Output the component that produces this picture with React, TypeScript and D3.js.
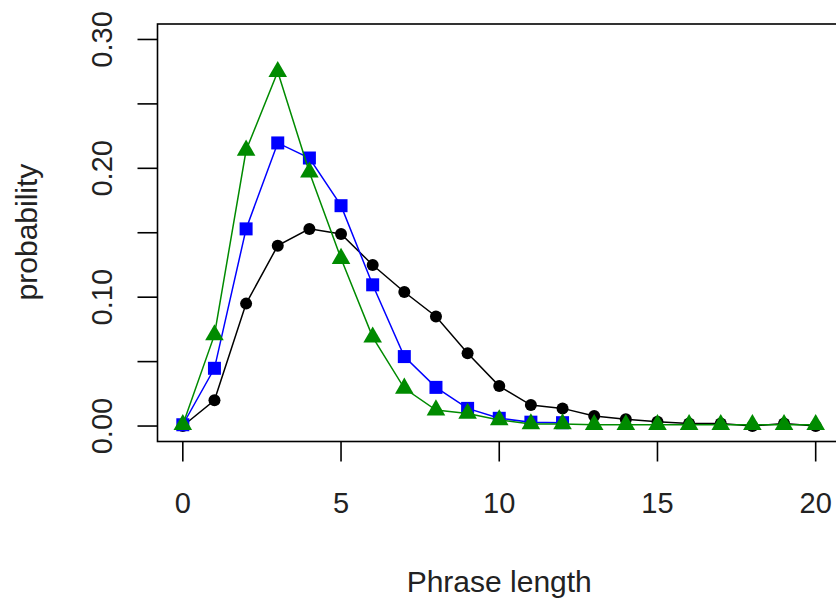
import React from "react";
import * as d3 from "d3";

const lengths = d3.range(0, 21);
const blackSeries = [0.0, 0.020, 0.095, 0.140, 0.153, 0.149, 0.125, 0.104, 0.085, 0.0565, 0.031, 0.0163, 0.0137, 0.0078, 0.0052, 0.0034, 0.002, 0.002, 0.0, 0.002, 0.0];
const blueSeries = [0.001, 0.0448, 0.153, 0.2197, 0.208, 0.171, 0.1096, 0.0539, 0.030, 0.0137, 0.006, 0.003, 0.0026];
const greenSeries = [0.001, 0.0707, 0.214, 0.275, 0.197, 0.130, 0.069, 0.0293, 0.0124, 0.0098, 0.0047, 0.0016, 0.0016, 0.001, 0.001, 0.001, 0.001, 0.001, 0.001, 0.001, 0.001];
const xTicks = [0, 5, 10, 15, 20];
const yTicks = [0, 0.05, 0.1, 0.15, 0.2, 0.25, 0.3];
const yTickLabels = ["0.00", "0.10", "0.20", "0.30"];
const xTitle = "Phrase length";
const yTitle = "probability";

const W = 836;
const H = 602;
const left = 157.5, right = 841, top = 24, bottom = 441.5;
const FONT = "'Liberation Sans', Arial, Helvetica, sans-serif";

export default function App() {
  const x = d3.scaleLinear().domain([-0.8, 20.8]).range([left, right]);
  const y = d3.scaleLinear().domain([-0.012, 0.312]).range([bottom, top]);
  const line = d3.line<number>().x((_, i) => x(lengths[i])).y((d) => y(d));
  const tri = d3.symbol().type(d3.symbolTriangle).size(150)();
  return (
    <svg width={W} height={H} style={{ position: "absolute", left: 0, top: 0, background: "#fff" }}>
      <rect x={0} y={0} width={W} height={H} fill="#fff" />
      <rect x={left} y={top} width={right - left} height={bottom - top} fill="none" stroke="#000" strokeWidth={1.6} />
      {/* y axis */}
      {yTicks.map((t) => (
        <line key={"yt" + t} x1={left - 20} x2={left} y1={y(t)} y2={y(t)} stroke="#000" strokeWidth={1.6} />
      ))}
      {yTickLabels.map((l) => (
        <text key={"yl" + l} transform={`translate(112,${y(+l)}) rotate(-90)`} textAnchor="middle" fontFamily={FONT} fontSize={29} fill="#222">
          {l}
        </text>
      ))}
      {/* x axis */}
      {xTicks.map((t) => (
        <line key={"xt" + t} x1={x(t)} x2={x(t)} y1={bottom} y2={bottom + 20} stroke="#000" strokeWidth={1.6} />
      ))}
      {xTicks.map((t) => (
        <text key={"xl" + t} x={x(t)} y={513} textAnchor="middle" fontFamily={FONT} fontSize={29} fill="#222">
          {t}
        </text>
      ))}
      <text x={(left + right) / 2} y={592} textAnchor="middle" fontFamily={FONT} fontSize={30} fill="#222">
        {xTitle}
      </text>
      <text transform={`translate(37,232) rotate(-90)`} textAnchor="middle" fontFamily={FONT} fontSize={30} fill="#222">
        {yTitle}
      </text>
      {/* black series */}
      <path d={line(blackSeries) || ""} fill="none" stroke="#000" strokeWidth={1.5} />
      {blackSeries.map((v, i) => (
        <circle key={"b" + i} cx={x(lengths[i])} cy={y(v)} r={6} fill="#000" />
      ))}
      {/* blue series */}
      <path d={line(blueSeries) || ""} fill="none" stroke="#0000ff" strokeWidth={1.5} />
      {blueSeries.map((v, i) => (
        <rect key={"s" + i} x={x(lengths[i]) - 6.5} y={y(v) - 6.5} width={13} height={13} fill="#0000ff" />
      ))}
      {/* green series */}
      <path d={line(greenSeries) || ""} fill="none" stroke="#008b00" strokeWidth={1.5} />
      {greenSeries.map((v, i) => (
        <path key={"g" + i} d={tri || ""} transform={`translate(${x(lengths[i])},${y(v)})`} fill="#008b00" />
      ))}
    </svg>
  );
}
